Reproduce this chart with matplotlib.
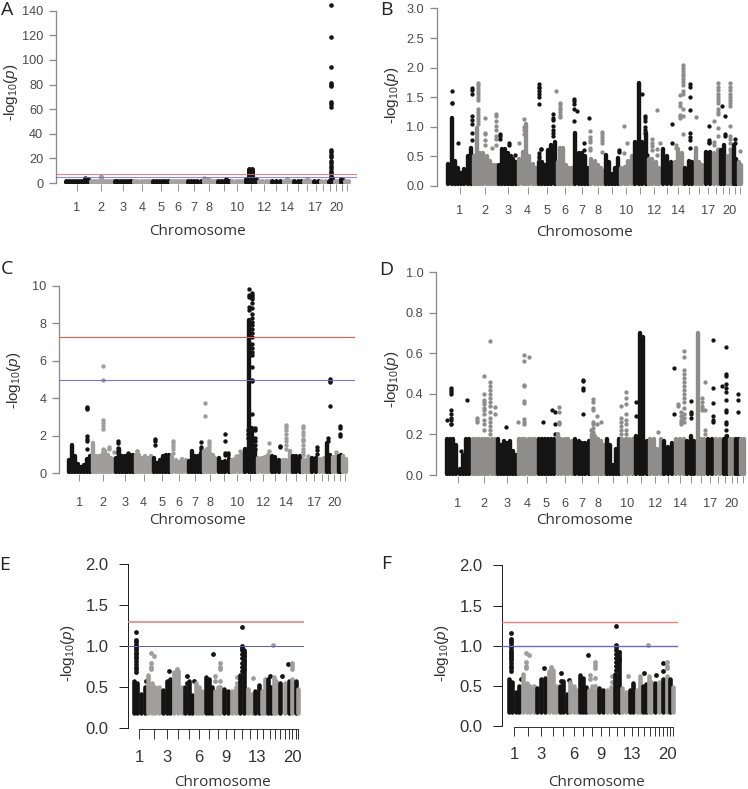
import matplotlib
matplotlib.use("Agg")
import matplotlib.pyplot as plt
from matplotlib import font_manager as fm

W, H = 748, 789
DPI = 100
names = {f.name for f in fm.fontManager.ttflist}
NARROW = 'Liberation Sans Narrow' if 'Liberation Sans Narrow' in names else 'Liberation Sans'
plt.rcParams['font.family'] = ['Liberation Sans', 'DejaVu Sans']
plt.rcParams['mathtext.fontset'] = 'custom'
plt.rcParams['mathtext.rm'] = 'Liberation Sans'
plt.rcParams['mathtext.it'] = 'Liberation Sans:italic'

# chromosome lengths in Mb (x scale of every panel)
chrom_mb = [249, 243, 198, 191, 181, 171, 159, 146, 141, 135, 135,
            133, 115, 107, 102, 90, 81, 78, 59, 63, 48, 51]

labels_wide = [1, 2, 3, 4, 5, 6, 7, 8, 10, 12, 14, 17, 20]
labels_sparse = [1, 3, 6, 9, 13, 20]
yticks_a = [0, 20, 40, 60, 80, 100, 120, 140]
yticks_b = [0.0, 0.5, 1.0, 1.5, 2.0, 2.5, 3.0]
yticks_c = [0, 2, 4, 6, 8, 10]
yticks_d = [0.0, 0.2, 0.4, 0.6, 0.8, 1.0]
yticks_e = [0.0, 0.5, 1.0, 1.5, 2.0]

# Envelope of the dense mass: per chromosome, tops evenly spaced along it
A_tops = [[1.5, 2, 1.5, 1.5, 1.3, 1.4, 1.8, 3.2], [2, 2, 1.5, 2, 1.5, 1.5, 1.5, 1.5],
          [1.8, 2, 1.5, 1.5, 1.5, 1.5, 1.5], [1.5, 1.5, 1.5, 1.5, 1.5, 1.5],
          [1.8, 2, 1.5, 1.5, 1.5, 1.5], [1.5, 1.5, 2, 1.5, 1.5, 1.5],
          [1.5, 1.8, 1.5, 1.8, 2], [2.5, 3.5, 2.5, 2, 1.5], [1.5, 1.5, 1.5, 2.5, 2],
          [1.5, 1.5, 1.5, 1.5], [3, 11.5, 11, 3], [1.5, 2, 1.5, 1.5],
          [1.5, 1.5, 1.8], [1.5, 3, 2], [1.5, 1.5, 1.8], [2, 3, 1.5], [1.5, 2],
          [1.5, 1.5], [2, 4], [1.5, 1.5], [3.5, 2.5], [1.5, 1.5]]
B_tops = [[.38, 1.15, .42, .3, .22, .28, .5, .65], [.5, .98, .55, .55, .5, .42, .35, .35],
          [.35, .62, .62, .55, .5, .45, .4], [.45, .58, 1.05, .5, .38, .3],
          [.4, .4, .35, .6, .7, .75], [.4, .65, .65, .35, .3, .3],
          [.9, .55, .55, .5, .3], [.45, .42, .35, .3, .25], [.52, .4, .2, .3, .48],
          [.3, .32, .42, .5], [.75, 1.74, .75, .9], [.45, .45, .4, .3],
          [.62, .5, .4], [.4, .62, .55], [.3, .42, .4], [.65, .4, .35], [.58, .58],
          [.55, .6], [.6, .7], [.5, .6], [.7, .45], [.4, .35]]
C_tops = [[.7, 1.5, .9, .5, .35, .45, .75, .95], [1.6, .9, .95, 1.0, 1.2, 1.0, .8, .75],
          [.8, 1.3, .9, .95, .95, 1.0, 1.0], [1.0, 1.0, .8, .9, .8, .95],
          [.8, .55, .7, .9, 1.0, 1.0], [.9, .7, .6, .75, .7], [.65, 1.2, .95, .9, 1.1],
          [1.2, 1.3, 1.1, 1.0, .8], [.8, .6, .65, .75], [.7, .75, .9, 1.05],
          [1.3, 8.2, 2.4, 1.3], [.8, .8, .85, 1.0], [.95, .85, .7], [.7, .7, 1.2],
          [.9, .95, .9], [.7, .7, .8], [.8, .8], [.75, .8], [1.6, 1.0], [.85, .9],
          [.9, 1.0], [.9, .75]]
D_tops = [[.18, .18, .18, .15, .03, .1, .18, .18], [.18, .18, .18, .18, .18, .18, .18, .18],
          [.18, .15, .17, .16, .17, .12, .1], [.18, .18, .18, .18, .18, .18],
          [.18, .18, .18, .18, .18, .18], [.2, .18, .18, .18, .17], [.18, .17, .16, .16, .17],
          [.2, .19, .18, .17, .15], [.18, .15, .05, .13, .18], [.18, .18, .18, .18],
          [.19, .7, .68, .17], [.18, .18, .13, .18], [.17, .14, .16], [.18, .18, .18],
          [.17, .19, .17], [.7, .18, .18], [.18, .18], [.18, .18], [.18, .19],
          [.18, .18], [.18, .18], [.18, .18]]
E_tops = [[.58, .55, .42, .5], [.65, .55, .5, .5], [.47, .58, .6], [.68, .7, .5],
          [.5, .58, .4], [.55, .5, .45], [.62, .6, .5], [.45, .5, .45], [.48, .45],
          [.45, .5], [.65, .95], [.48, .42], [.45, .52], [.45, .6], [.6, .5],
          [.62, .58], [.55], [.55], [.58], [.6], [.58], [.48]]
F_tops = [[.58, .55, .42, .5], [.65, .53, .5, .5], [.47, .58, .6], [.68, .7, .5],
          [.5, .56, .4], [.55, .5, .45], [.64, .6, .48], [.45, .5, .45], [.47, .45],
          [.45, .48], [.65, .92], [.47, .42], [.45, .54], [.45, .62], [.5, .52],
          [.62, .55], [.54], [.55], [.58], [.62], [.59], [.48]]

# Separate points: (chromosome, position along it, values)
A_hits = [(1, .84, [4, 3.5]), (2, .5, [6, 5, 4, 3]), (8, .15, [4, 3]), (9, .7, [3.5]),
          (19, .7, [145, 119, 94, 81, 80, 78.5, 65.5, 64, 62, 27, 25, 23, 21, 18, 16, 14, 12, 10, 8, 6, 4])]
B_hits = [(1, .21, [1.6, 1.4, 1.4]), (1, .45, [.72]),
          (1, .98, [1.65, 1.62, 1.55, 1.18, 1.12, 1.05, .9, .78]),
          (2, .21, [1.74, 1.7, 1.65, 1.6, 1.55, 1.5, 1.45, 1.3, 1.25, 1.2, 1.15, 1.1, 1.05]),
          (2, .5, [1.15, .9, .88, .78, .7]), (2, .8, [.65]),
          (2, .95, [1.22, 1.18, 1.1, 1.02, .95, .85, .8, .7]),
          (3, .12, [.88, .84, .8]), (3, .55, [.72, .7]), (3, .85, [.52]),
          (4, .05, [.72]), (4, .33, [1.14, 1.0, .95, .88]),
          (5, .1, [1.72, 1.68, 1.65, 1.6, 1.55, 1.5, 1.38, .55, .5, .48]), (5, .2, [.63, .62]),
          (5, .85, [1.22, 1.15, 1.12, 1.02, .95, .9, .85]),
          (6, .02, [1.61]), (6, .2, [1.4, 1.38, 1.33, 1.3, 1.25, 1.2, 1.17]),
          (7, .03, [1.47, 1.43, 1.38, 1.3, 1.1]), (7, .22, [1.27]), (7, .63, [.72, .6]), (7, .94, [1.15]),
          (8, .02, [.93, .82, .78, .75, .65, .6]), (8, .78, [.92, .88, .82, .78, .72, .58]),
          (9, .95, [.6, .57]), (10, .36, [1.02, .55]), (10, .56, [.72]),
          (11, .6, [1.55]), (11, .81, [1.18, 1.15, 1.1, 1.0, .95, .9]), (11, 1.0, [.53]),
          (12, .32, [.8, .72, .68, .6]), (12, .73, [1.28, .62, .52]), (12, .93, [.72]),
          (13, .9, [1.05, .73]), (14, .27, [.7, .65]),
          (14, .67, [1.53, 1.4, 1.35, 1.2, 1.18, 1.15]),
          (14, .94, [2.04, 2.0, 1.95, 1.9, 1.85, 1.8, 1.75, 1.7, 1.6, 1.55, 1.3, 1.18, .88]),
          (15, .56, [1.72, 1.67, 1.5, 1.28, .9, .82, .78, .65]), (16, .2, [1.16]),
          (17, .67, [1.02, .77, .75, .72]), (18, .3, [1.1, .75, .7]),
          (18, .83, [1.74, 1.68, 1.62, 1.55, 1.5, 1.45, 1.4, 1.3, 1.25, 1.22, .98, .85, .62, .6]),
          (19, .3, [1.35]), (19, .8, [1.18, .88, .85]),
          (20, .7, [1.74, 1.68, 1.62, 1.55, 1.5, 1.45, 1.4, 1.35, 1.02, .85, .8, .72, .62]),
          (21, .5, [.8, .72]), (22, .6, [.59])]
C_hits = [(1, .83, [3.55, 3.5, 3.45, 2.0, 1.85, 1.7, 1.3]),
          (2, .5, [5.75, 4.97, 2.85, 2.7, 2.5, 2.35, 1.3, 1.2, 1.1]), (2, .76, [1.4, 1.3]), (2, .97, [1.15]),
          (3, .17, [1.7, 1.6, 1.35, 1.2, 1.1]), (3, .65, [1.1]), (4, .12, [1.2]), (4, .17, [1.2]),
          (5, .14, [1.85, 1.7, 1.5]), (6, .16, [1.75, 1.6, 1.45, 1.3, 1.1]),
          (7, .87, [1.65, 1.4, 1.3, 1.15]), (8, .16, [3.75, 3.05]), (8, .47, [1.75, 1.6, 1.45, 1.3]),
          (9, .58, [2.1, 1.75, 1.1, 1.0]), (9, .78, [1.1, 1.0]), (10, .4, [.9]), (10, .7, [1.2]),
          (11, .38, [9.85, 9.5, 9.4, 8.9, 8.7]),
          (11, .6, [9.6, 9.5, 9.4, 9.3, 9.1, 8.8, 8.5, 8.3, 8.1, 7.9, 7.7, 7.5, 7.3, 6.9, 6.7,
                    6.5, 6.3, 5.65, 5.0, 4.95, 3.15]),
          (11, .85, [2.4, 2.3, 1.9, 1.7, 1.5, 1.3]), (11, .1, [1.3]), (11, .33, [2.3, 2.1, 1.9]),
          (12, .97, [1.6, 1.2]), (13, .9, [1.45, 1.4]), (14, .48, [2.6, 2.45, 2.3, 2.1, 1.9, 1.7, 1.5, 1.3]),
          (16, .23, [2.5, 2.4, 2.2, 2.05, 1.85, 1.8, 1.7, 1.5, 1.3, 1.15, 1.0]), (16, .73, [.95]),
          (17, .83, [1.4, 1.25, 1.05]), (19, .35, [1.9, 1.7]), (19, .76, [5.05, 4.95, 4.85, 3.6]),
          (20, .85, [1.15]), (21, .5, [2.5, 2.4, 2.1, 2.0])]
D_hits = [(1, .09, [.27]), (1, .22, [.43, .42, .41, .4, .32, .3, .28, .27, .25, .25]),
          (1, .6, [.12]), (1, .83, [.37]), (2, .22, [.28, .27, .26]),
          (2, .51, [.49, .4, .37, .36, .35, .33, .32, .3, .27, .25, .22]),
          (2, .76, [.66, .46, .44, .42, .4, .38, .36, .34, .31, .28, .26, .24, .22, .2]),
          (2, .94, [.335, .3]), (3, .45, [.235]), (4, .05, [.26]),
          (4, .35, [.59, .56, .445, .44, .365, .355, .275, .26, .25]), (4, .58, [.58]),
          (5, .33, [.26]), (5, .77, [.32]), (5, .98, [.31, .25, .2]),
          (6, .2, [.335, .31, .26, .255, .25]), (7, .58, [.47, .465, .43, .42, .3]),
          (8, .03, [.22]), (8, .17, [.375, .36, .33, .32, .26, .25, .23, .21]), (8, .46, [.29, .25]), (8, .67, [.26]),
          (10, .07, [.34, .28, .26, .24, .22, .2]), (10, .43, [.41, .38, .35, .3, .27, .25, .22, .2]),
          (11, .09, [.36, .29]), (12, .7, [.21]), (13, .97, [.53, .3]), (14, .32, [.35, .34]),
          (14, .56, [.31, .29, .27, .26, .25]),
          (14, .85, [.61, .58, .52, .5, .48, .46, .44, .42, .4, .38, .36, .33, .3, .28, .26]),
          (15, .47, [.365, .31, .3, .28]), (16, .65, [.38, .36, .34, .33, .32]), (16, .9, [.46, .32, .22, .2]),
          (17, .92, [.665, .43, .355, .29, .27, .26]), (19, .0, [.44]),
          (19, .7, [.63, .5, .49, .45, .43, .41, .37, .32, .31, .26, .25, .22, .19]),
          (21, .6, [.4, .37, .31])]
E_hits = [(1, .27, [1.17, 1.07, 1.05, 1.02, 1.0, .98, .95, .92, .9, .87, .85, .82, .78, .75, .72, .68]),
          (1, .98, [.58]), (2, .34, [.92, .8, .75, .72]), (2, .52, [.88]), (3, .75, [.7]), (4, .4, [.72, .68]),
          (5, .3, [.64, .55]), (5, .98, [.58]), (7, .98, [.9]), (8, .2, [.63, .58]),
          (8, .8, [.8, .75, .72, .58, .5]), (10, .9, [.62, .55]),
          (11, .48, [1.23, 1.0, .98, .95, .9, .85, .8, .75, .7]), (11, .82, [.93, .88, .82, .78, .72]),
          (12, .9, [.61]), (15, .5, [.64]), (16, .13, [1.02]), (17, .85, [.64]), (19, .4, [.78]),
          (20, .4, [.8, .76, .72])]
F_hits = [(1, .27, [1.16, 1.08, 1.06, 1.03, 1.0, .98, .95, .92, .9, .87, .85, .82, .78, .75, .72, .68]),
          (1, .98, [.58]), (2, .34, [.91, .8, .75, .72]), (2, .52, [.88]), (3, .75, [.72]), (4, .4, [.73, .68]),
          (5, .3, [.66, .56]), (5, .98, [.57]), (7, .98, [.89]), (8, .2, [.63, .58]),
          (8, .8, [.8, .76, .72, .6, .5]), (10, .9, [.62, .55]),
          (11, .48, [1.25, 1.01, .98, .95, .9, .85, .8, .75, .7]), (11, .82, [.92, .85, .82]),
          (12, .9, [.62]), (15, .5, [.66]), (16, .13, [1.01]), (17, .85, [.64]), (19, .4, [.78, .69]),
          (20, .4, [.8, .75, .72])]

BLACK = '#141414'
GREY = '#8f8c8c'
cum = [sum(chrom_mb[:i]) for i in range(len(chrom_mb))]
mids = [c + l / 2 for c, l in zip(cum, chrom_mb)]


def pixtext(x, y, s, **kw):
    return fig.text(x / W, 1 - y / H, s, ha=kw.pop('ha', 'center'), va=kw.pop('va', 'center'), **kw)


def panel(tops, hits, base, left, right, y0, py_per, ymax, p0, scale, yticks, yfmt,
          chrom_labels, ticklen, dot_px, stem_px, axis_col, text_col, text_size, text_font,
          lines=None, bracket=False, ypad=3.2, grey=GREY):
    top_px = y0 - ymax * py_per
    bottom_px = y0 + 1
    ax = fig.add_axes([left / W, 1 - bottom_px / H, (right - left) / W, (bottom_px - top_px) / H])
    ax.set_xlim((left - p0) / scale, (right - p0) / scale)
    ax.set_ylim(-1 / py_per, ymax)
    ax.patch.set_alpha(0)
    for s in ax.spines.values():
        s.set_visible(False)
    ax.spines['left'].set_visible(True)
    ax.spines['left'].set_bounds(0, ymax)
    lw_axis = 1.0 if bracket else 1.3
    ax.spines['left'].set_linewidth(lw_axis * 72 / DPI)
    ax.spines['left'].set_color(axis_col)
    stem_lw = stem_px * 72 / DPI
    s = (dot_px * 72 / DPI) ** 2
    for i, col_tops in enumerate(tops):
        col = BLACK if i % 2 == 0 else grey
        n = len(col_tops)
        xs = [cum[i] + chrom_mb[i] * (j + .5) / n for j in range(n)]
        ax.vlines(xs, base, col_tops, colors=col, linewidth=stem_lw, capstyle='round', zorder=2 + i * .01)
        hx, hy = [], []
        for c, f, vals in hits:
            if c == i + 1:
                hx += [cum[i] + chrom_mb[i] * f] * len(vals)
                hy += vals
        ax.scatter(hx, hy, s=s, c=col, linewidths=0, zorder=2 + i * .01, clip_on=False)
    if lines:
        for val, c, lw, a in lines:
            ax.axhline(val, color=c, lw=lw * 72 / DPI, alpha=a, zorder=5)
    ax.set_yticks(yticks)
    ax.set_yticklabels([yfmt % t for t in yticks], fontsize=text_size, color=text_col, family=text_font)
    ax.tick_params(axis='y', length=ticklen[0] * 72 / DPI, width=lw_axis * 72 / DPI, color=axis_col, pad=ypad)
    ax.set_xticks(mids)
    ax.set_xticklabels([str(i + 1) if i + 1 in chrom_labels else '' for i in range(22)],
                       fontsize=text_size, color=text_col, family=text_font)
    ax.tick_params(axis='x', length=ticklen[1] * 72 / DPI, width=.9 * 72 / DPI, color=axis_col, pad=ticklen[2])
    if bracket:
        ax.spines['bottom'].set_visible(True)
        ax.spines['bottom'].set_bounds(mids[0], mids[-1])
        ax.spines['bottom'].set_linewidth(.9 * 72 / DPI)
        ax.spines['bottom'].set_color(axis_col)
    return ax


fig = plt.figure(figsize=(W / DPI, H / DPI), dpi=DPI)
SANS = 'Open Sans'
AXGREY = '#8a8a8a'
TXT = '#4a4a4a'
small = dict(axis_col=AXGREY, text_col=TXT, text_size=9.2, text_font=NARROW, ypad=4.2)
big = dict(axis_col='#222222', text_col='#333333', text_size=12, text_font='Liberation Sans', bracket=True, ypad=7.6)

panel(A_tops, A_hits, .9, 56, 357, 183, 1.2307, 140, 64.4, .099, yticks_a, '%d', labels_wide, (7, 6.5, 8),
      4.6, 5.0, lines=[(7.3, '#f06a6a', 1.1, .85), (5, '#6f6fd8', 1.1, .8)], grey='#a3a1a1', **small)
panel(B_tops, B_hits, .03, 437, 745, 186, 59.2, 3.0, 446.9, .1028, yticks_b, '%.1f', labels_wide, (7, 6.5, 8.5),
      4.3, 4.4, **small)
panel(C_tops, C_hits, .05, 59.3, 355.3, 473.3, 18.73, 10, 67.2, .0973, yticks_c, '%d', labels_wide, (7, 6.5, 11.5),
      4.4, 4.4, grey='#a09d9d', lines=[(7.3, '#ee5a48', 1.1, 1), (5, '#6a6ad0', 1.1, .9)], **small)
panel(D_tops, D_hits, .006, 436.3, 747, 475, 202.7, 1.0, 445, .1044, yticks_d, '%.1f', labels_wide, (7, 6.5, 11),
      4.3, 4.4, **small)
panel(E_tops, E_hits, .18, 128.3, 304.3, 728, 81.8, 2.0, 132, .0584, yticks_e, '%.1f', labels_sparse, (9, 9.5, 8.5),
      4.8, 4.6, grey='#a09d9d', lines=[(1.3, '#f07c7c', 1.6, 1), (1.0, '#5c5cd0', 1.0, 1)], **big)
panel(F_tops, F_hits, .18, 502.3, 678, 726, 80.3, 2.0, 506.7, .0584, yticks_e, '%.1f', labels_sparse, (9, 9, 8),
      4.8, 4.6, grey='#a09d9d', lines=[(1.3, '#f07c7c', 1.4, 1), (1.0, '#6a6ac8', 1.4, 1)], **big)

YL = r'-log$_{\mathrm{10}}$($\mathit{p}$)'
for x, y in [(11, 92), (392, 95), (14, 380), (392, 379), (68, 653), (442, 653)]:
    pixtext(x, y, YL, rotation=90, fontsize=11, color='#333333')
for x, y in [(197.7, 231.5), (584.7, 232), (198, 521), (584.7, 521), (222, 782.5), (596.7, 782.5)]:
    pixtext(x, y, 'Chromosome', fontsize=11, color='#333333', family=SANS)
for x, y, t in [(7, 10, 'A'), (386, 10, 'B'), (7, 269, 'C'), (386, 270, 'D'), (5, 564.7, 'E'), (386, 564, 'F')]:
    pixtext(x, y, t, fontsize=14, color='#222222', family=SANS)

fig.savefig('out.png', dpi=DPI)
